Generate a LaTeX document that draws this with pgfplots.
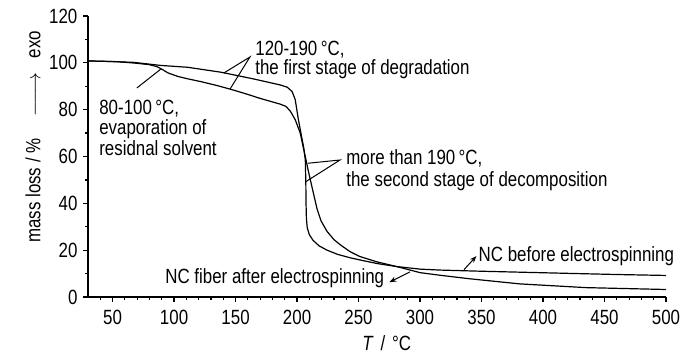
\documentclass[border=0pt]{standalone}
\usepackage{fontspec}
\setmainfont{Liberation Sans}[FakeStretch=0.82]
\usepackage{pgfplots}
\usepackage{pgfplotstable}
\pgfplotsset{compat=1.18}
\usetikzlibrary{arrows.meta}

\pgfplotstableread{
x y
30 100.8
45 100.6
67 100.2
89 98.9
111 98.1
138 96.0
164 93.2
180 91.3
186 90.6
192 89.6
196 87.7
198.5 84.3
201 76.0
203.5 69.0
205.5 63.5
206.7 58.5
207.1 50
207.3 40
207.6 33.5
208.3 29.5
210 26.6
213 24.2
218 21.8
224.4 20.0
233 18.2
243.5 16.7
254 15.5
265 14.3
281 13.0
300 11.9
316 11.5
350 11.0
381 10.6
420 10.1
460 9.6
500 9.2
}\ncbefore

\pgfplotstableread{
x y
30 100.8
40 100.7
54 100.5
70 99.8
80 99.2
86 98.4
90 97.3
95 95.7
103 94.2
110 93.3
121.5 92.0
135 90.3
148 88.4
160 86.5
170 84.8
180 83.3
186 82.4
191 81.4
194.6 79.3
198.6 75.6
202.6 70.0
205 64
207.5 58
209.5 53
213 45
216.3 37.5
219.5 32.5
224.4 28
230 24.5
235.4 22.2
243 19.4
251 17.3
265 15.0
281 13.0
300 10.4
316 9.3
340 7.8
381 5.6
435 4.0
500 3.2
}\ncfiber

\begin{document}
\fontsize{10.3}{10.5}\selectfont
\begin{tikzpicture}
\begin{axis}[
  at={(0,0)}, anchor=south west,
  scale only axis, width=289pt, height=140.5pt,
  xmin=30, xmax=500, ymin=0, ymax=120,
  axis lines=left, axis line style={-, line width=0.7pt},
  xtick={50,100,...,500}, ytick={0,20,...,120},
  minor xtick={40,50,...,500}, minor ytick={0,10,...,120},
  tick align=outside, major tick length=2.6pt, minor tick length=1.6pt,
  every tick/.style={line width=0.6pt, black},
  /pgf/number format/assume math mode=true,
  yticklabel style={anchor=east, inner sep=0pt, xshift=-2.5pt},
  xticklabel style={anchor=north, inner sep=0pt, yshift=-4pt},
  xlabel={\textit{T}\,\,/\,\,°C},
  ylabel={mass loss / \%\hspace{11pt}$\relbar\joinrel\relbar\joinrel\rightarrow$\hspace{7pt}exo},
  xlabel style={at={(rel axis cs:0.517,-0.164)}, anchor=center, inner sep=0pt},
  ylabel style={at={(rel axis cs:-0.095,0.57)}, anchor=center, inner sep=0pt},
  clip=false,
]
\addplot[black, line width=0.6pt] table[x=x,y=y] {\ncbefore};
\addplot[black, line width=0.6pt] table[x=x,y=y] {\ncfiber};

% annotations
\draw[line width=0.5pt] (axis cs:140.6,95.7) -- (axis cs:161.7,102.5) -- (axis cs:145.5,88.8);
\node[anchor=base west, inner sep=0pt] at (axis cs:165.8,103.1) {120-190\,°C,};
\node[anchor=base west, inner sep=0pt] at (axis cs:165.8,94.9) {the first stage of degradation};

\draw[line width=0.5pt] (axis cs:89.4,97.4) -- (axis cs:69.8,89.3);
\node[anchor=base west, inner sep=0pt] at (axis cs:38.9,77.9) {80-100\,°C,};
\node[anchor=base west, inner sep=0pt] at (axis cs:38.9,69.2) {evaporation of};
\node[anchor=base west, inner sep=0pt] at (axis cs:38.9,60.4) {residnal solvent};

\draw[line width=0.5pt] (axis cs:208.7,57.1) -- (axis cs:234.9,58.5) -- (axis cs:207.0,49.2);
\node[anchor=base west, inner sep=0pt] at (axis cs:239.8,56.6) {more than 190\,°C,};
\node[anchor=base west, inner sep=0pt] at (axis cs:239.8,47.2) {the second stage of decomposition};

\draw[line width=0.5pt, -{Stealth[length=3.5pt,width=2.6pt]}] (axis cs:335.8,11.7) -- (axis cs:345.9,17.5);
\node[anchor=base west, inner sep=0pt] at (axis cs:347.4,15.1) {NC before electrospinning};

\draw[line width=0.5pt, -{Stealth[length=3.5pt,width=2.6pt]}] (axis cs:291.8,10.7) -- (axis cs:275.0,6.3);
\node[anchor=base west, inner sep=0pt] at (axis cs:92.6,5.85) {NC fiber after electrospinning};
\end{axis}
\pgfresetboundingbox
\useasboundingbox (-44pt,-30pt) rectangle (306pt,148.5pt);
\end{tikzpicture}
\end{document}
